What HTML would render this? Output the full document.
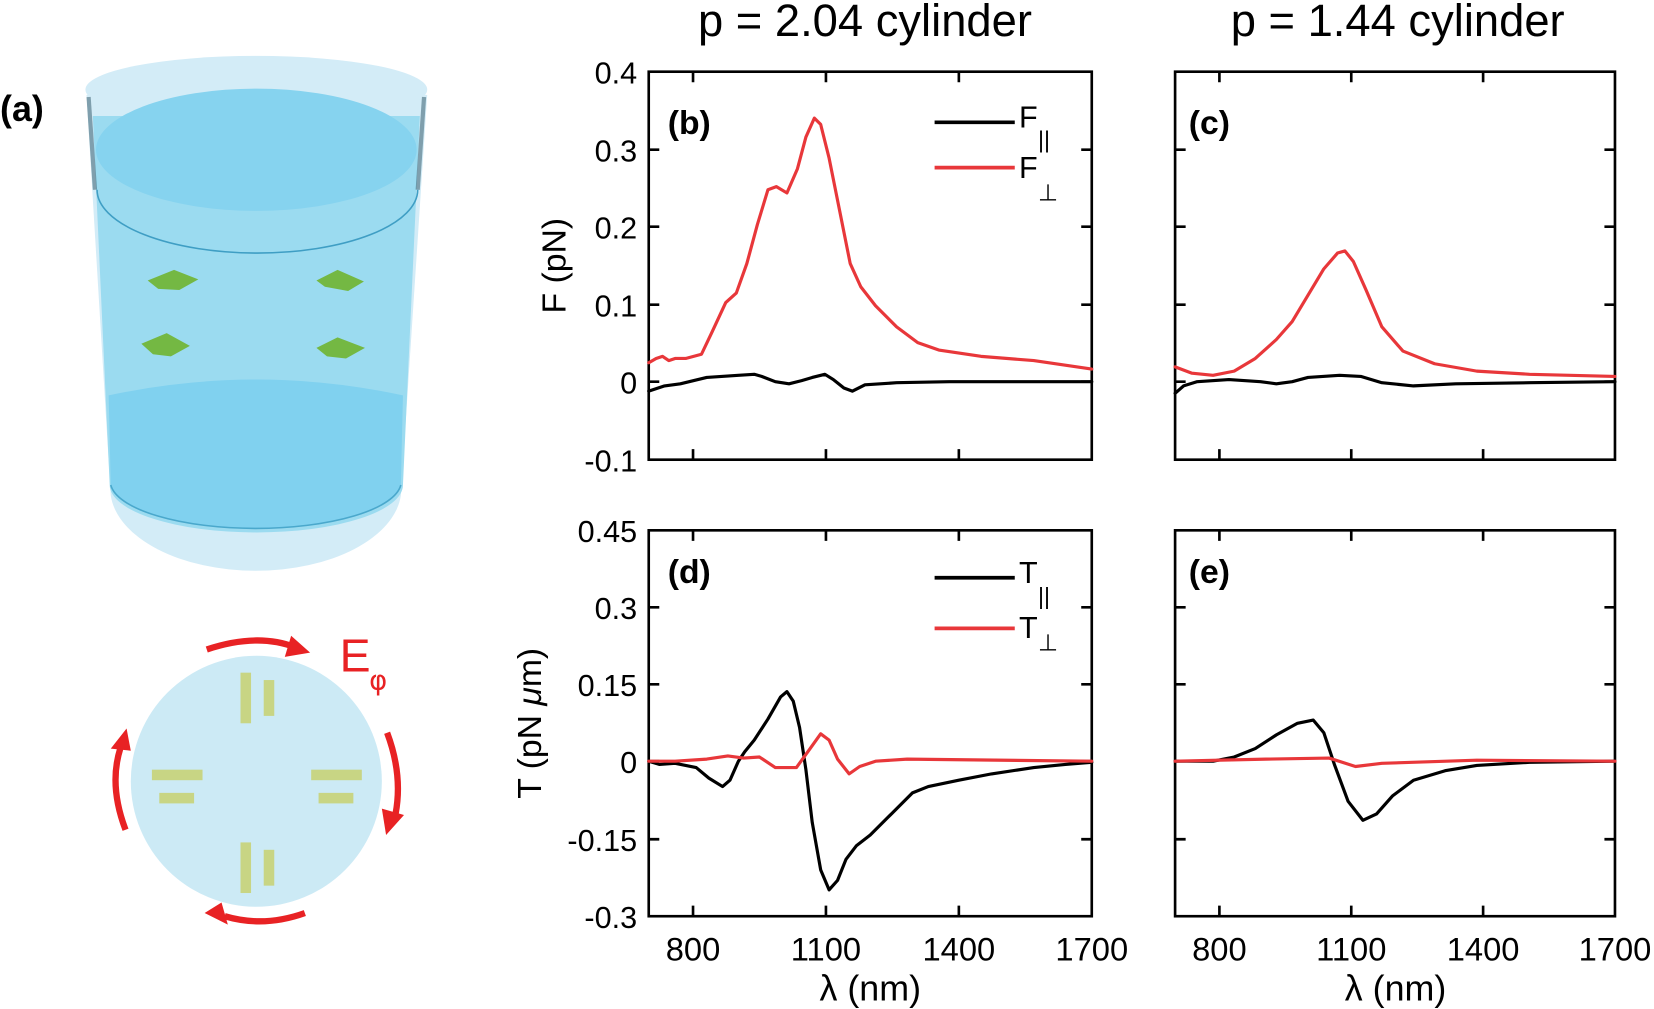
<!DOCTYPE html>
<html><head><meta charset="utf-8"><style>
html,body{margin:0;padding:0;background:#fff;}
svg{display:block;}
text{font-family:"Liberation Sans Narrow","Liberation Sans",sans-serif;}
</style></head><body>
<svg width="1654" height="1009" viewBox="0 0 1568 957" preserveAspectRatio="none" xmlns="http://www.w3.org/2000/svg">
<!-- Panel (a) cylinder -->
<text x="0" y="115" font-size="34" font-weight="bold" style="font-family:'Liberation Sans',sans-serif">(a)</text>
<path d="M82,90 L105,470 A138,78 0 0 0 380,470 L405,90 Z" fill="#d3ecf7"/>
<ellipse cx="243" cy="85" rx="162" ry="32" fill="#d3ecf7"/>
<path d="M88,110 L104,460 A139,45 0 0 0 382,460 L398,110 Z" fill="#9bdbf0"/>
<ellipse cx="243" cy="142" rx="152" ry="58" fill="#86d3ef"/>
<path d="M84,92 L90,180" stroke="#2d5565" stroke-width="4" opacity="0.5"/>
<path d="M402,92 L396,180" stroke="#2d5565" stroke-width="4" opacity="0.5"/>
<path d="M103,375 Q243,345 382,375 L380,460 A138,45 0 0 1 105,460 Z" fill="#80d1ef"/>
<path d="M105,460 A138,45 0 0 0 380,460" fill="none" stroke="#4aa8cc" stroke-width="1.5"/>
<path d="M92,180 A152,60 0 0 0 396,180" fill="none" stroke="#3f9ec4" stroke-width="1.5"/>
<g fill="#74b843">
<path d="M140,266 L165,256 L188,265 L170,275 L150,274 Z"/>
<path d="M300,266 L320,256 L345,267 L330,276 L308,272 Z"/>
<path d="M134,326 L158,316 L180,328 L162,338 L145,336 Z"/>
<path d="M300,330 L320,320 L346,330 L328,340 L310,338 Z"/>
</g>
<!-- circle diagram -->
<circle cx="243" cy="741" r="119" fill="#cceaf5"/>
<g fill="#c8d584">
<rect x="228" y="638" width="10" height="48"/><rect x="250" y="645" width="10" height="34"/>
<rect x="228" y="799" width="10" height="48"/><rect x="250" y="806" width="10" height="34"/>
<rect x="144" y="730" width="48" height="10"/><rect x="151" y="752" width="33" height="10"/>
<rect x="295" y="730" width="48" height="10"/><rect x="302" y="752" width="33" height="10"/>
</g>
<g fill="none" stroke="#e82224" stroke-width="6">
<path d="M196,616 Q244,600 280,614"/>
<path d="M367,695 Q382,735 375,772"/>
<path d="M119,787 Q103,745 114,710"/>
<path d="M289,866 Q250,880 213,869"/>
</g>
<g fill="#e82224">
<polygon points="276,603 294,619 270,623"/>
<polygon points="362,767 383,773 366,792"/>
<polygon points="105,710 120,691 124,712"/>
<polygon points="210,856 194,866 216,877"/>
</g>
<text x="322" y="637" font-size="44" fill="#e82224">E</text>
<text x="350" y="654" font-size="26" fill="#e82224" style="font-family:'DejaVu Sans',sans-serif">φ</text>

<!-- Titles -->
<text x="820" y="34" font-size="43" text-anchor="middle">p = 2.04 cylinder</text>
<text x="1325" y="34" font-size="43" text-anchor="middle">p = 1.44 cylinder</text>

<g stroke="#000" stroke-width="2.5" fill="none">
<rect x="615" y="68" width="420" height="368"/>
<rect x="1114" y="68" width="417" height="368"/>
<rect x="615" y="503" width="420" height="366"/>
<rect x="1114" y="503" width="417" height="366"/>
<path d="M657,68v10M783,68v10M909,68v10M657,436v-10M783,436v-10M909,436v-10
M1156,68v10M1281,68v10M1406,68v10M1156,436v-10M1281,436v-10M1406,436v-10
M657,503v10M783,503v10M909,503v10M657,869v-10M783,869v-10M909,869v-10
M1156,503v10M1281,503v10M1406,503v10M1156,869v-10M1281,869v-10M1406,869v-10
M615,142h10M615,215h10M615,289h10M615,362h10M1035,142h-10M1035,215h-10M1035,289h-10M1035,362h-10
M1114,142h10M1114,215h10M1114,289h10M1114,362h10M1531,142h-10M1531,215h-10M1531,289h-10M1531,362h-10
M615,576h10M615,649h10M615,722h10M615,796h10M1035,576h-10M1035,649h-10M1035,722h-10M1035,796h-10
M1114,576h10M1114,649h10M1114,722h10M1114,796h10M1531,576h-10M1531,649h-10M1531,722h-10M1531,796h-10"/>
</g>
<g font-size="29" text-anchor="end">
<text x="604" y="79">0.4</text><text x="604" y="153">0.3</text><text x="604" y="226">0.2</text><text x="604" y="300">0.1</text><text x="604" y="373">0</text><text x="604" y="447">-0.1</text>
<text x="604" y="514">0.45</text><text x="604" y="587">0.3</text><text x="604" y="660">0.15</text><text x="604" y="733">0</text><text x="604" y="807">-0.15</text><text x="604" y="880">-0.3</text>
</g>
<g font-size="31" text-anchor="middle">
<text x="657" y="911">800</text><text x="783" y="911">1100</text><text x="909" y="911">1400</text><text x="1035" y="911">1700</text>
<text x="1156" y="911">800</text><text x="1281" y="911">1100</text><text x="1406" y="911">1400</text><text x="1531" y="911">1700</text>
<text x="825" y="949" font-size="34">λ (nm)</text><text x="1323" y="949" font-size="34">λ (nm)</text>
</g>
<text transform="translate(536,252) rotate(-90)" font-size="32" text-anchor="middle" style="font-family:'Liberation Sans',sans-serif">F (pN)</text>
<text transform="translate(513,686) rotate(-90)" font-size="32" text-anchor="middle" style="font-family:'Liberation Sans',sans-serif">T (pN <tspan font-style="italic">μ</tspan>m)</text>
<g font-size="32" font-weight="bold" style="font-family:'Liberation Sans',sans-serif">
<text x="633" y="127">(b)</text><text x="1127" y="127">(c)</text>
<text x="633" y="553">(d)</text><text x="1127" y="553">(e)</text>
</g>
<g stroke-width="3.5">
<line x1="886" y1="116" x2="962" y2="116" stroke="#000"/><line x1="886" y1="159" x2="962" y2="159" stroke="#e8373a"/>
<line x1="886" y1="548" x2="962" y2="548" stroke="#000"/><line x1="886" y1="596" x2="962" y2="596" stroke="#e8373a"/>
</g>
<g font-size="29">
<text x="966" y="121">F</text><text x="984" y="140" font-size="22">||</text>
<text x="966" y="169">F</text><text x="984" y="190" font-size="22">⊥</text>
<text x="966" y="553">T</text><text x="984" y="573" font-size="22">||</text>
<text x="966" y="605">T</text><text x="984" y="617" font-size="22">⊥</text>
</g>
<g fill="none" stroke-width="3" stroke-linejoin="round" stroke-linecap="round">
<polyline stroke="#e8373a" points="615,344 622,340 628,338 634,342 640,340 650,340 665,336 675,315 688,287 698,278 708,250 718,213 728,180 736,177 746,183 756,160 764,130 772,112 778,118 786,150 796,200 806,250 816,272 830,290 850,310 870,325 890,332 930,338 980,342 1035,350"/>
<polyline stroke="#000" points="615,371 630,366 645,364 670,358 700,356 715,355 722,357 735,362 748,364 760,361 770,358 782,355 790,360 800,368 808,371 820,365 850,363 900,362 1035,362"/>
<polyline stroke="#e8373a" points="1114,348 1130,354 1150,356 1170,352 1190,340 1210,322 1225,305 1240,280 1255,255 1268,240 1275,238 1283,248 1295,275 1310,310 1330,333 1360,345 1400,352 1450,355 1531,357"/>
<polyline stroke="#000" points="1114,373 1122,366 1135,362 1165,360 1195,362 1210,364 1225,362 1240,358 1270,356 1290,357 1310,363 1340,366 1380,364 1450,363 1531,362"/>
<polyline stroke="#000" points="615,722 625,725 640,724 660,728 672,738 685,746 692,740 700,722 706,713 715,702 728,682 740,661 746,656 752,665 758,690 764,730 770,780 778,825 786,844 794,835 802,815 812,802 825,792 845,772 865,752 880,746 909,740 940,734 980,728 1010,725 1035,723"/>
<polyline stroke="#e8373a" points="615,722 640,722 670,720 690,717 705,719 720,718 735,728 755,728 768,710 778,696 786,702 794,720 805,734 815,727 830,722 860,720 1035,722"/>
<polyline stroke="#000" points="1114,722 1150,722 1170,718 1190,710 1210,697 1230,686 1245,683 1255,695 1265,725 1278,760 1292,778 1305,772 1320,755 1340,740 1370,731 1400,726 1450,723 1531,722"/>
<polyline stroke="#e8373a" points="1114,722 1200,720 1260,719 1285,727 1310,724 1400,721 1531,722"/>
</g>
</svg>
</body></html>
